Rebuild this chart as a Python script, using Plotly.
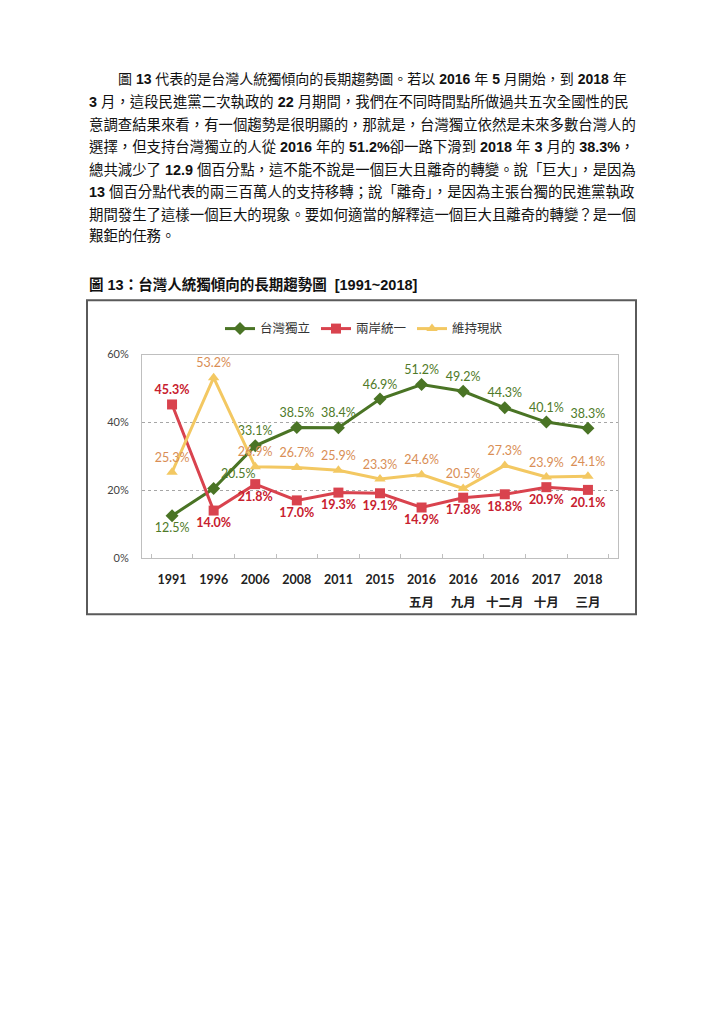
import re
import plotly.graph_objects as go

W, H = 724, 1024

categories = ["1991", "1996", "2006", "2008", "2011", "2015",
              "2016<br>五月", "2016<br>九月", "2016<br>十二月", "2017<br>十月", "2018<br>三月"]
independence = [12.5, 20.5, 33.1, 38.5, 38.4, 46.9, 51.2, 49.2, 44.3, 40.1, 38.3]
unification = [45.3, 14.0, 21.8, 17.0, 19.3, 19.1, 14.9, 17.8, 18.8, 20.9, 20.1]
status_quo = [25.3, 53.2, 26.9, 26.7, 25.9, 23.3, 24.6, 20.5, 27.3, 23.9, 24.1]
y_ticks = [0, 20, 40, 60]

paragraph = [
    "圖 13 代表的是台灣人統獨傾向的長期趨勢圖。若以 2016 年 5 月開始，到 2018 年",
    "3 月，這段民進黨二次執政的 22 月期間，我們在不同時間點所做過共五次全國性的民",
    "意調查結果來看，有一個趨勢是很明顯的，那就是，台灣獨立依然是未來多數台灣人的",
    "選擇，但支持台灣獨立的人從 2016 年的 51.2%卻一路下滑到 2018 年 3 月的 38.3%，",
    "總共減少了 12.9 個百分點，這不能不說是一個巨大且離奇的轉變。說「巨大」，是因為",
    "13 個百分點代表的兩三百萬人的支持移轉；說「離奇」，是因為主張台獨的民進黨執政",
    "期間發生了這樣一個巨大的現象。要如何適當的解釋這一個巨大且離奇的轉變？是一個",
    "艱鉅的任務。",
]
chart_title = "<b>圖 13：台灣人統獨傾向的長期趨勢圖  [1991~2018]</b>"

OFF = 8  # default page body margin


def px(x):
    return (x - OFF) / W


def py(y):
    return 1 - (y - OFF) / H


CJK = "Noto Sans CJK TC"
NUM = "Lato, Noto Sans CJK TC"

green, red, yellow = "#4A7425", "#D9434E", "#F3C862"
green_lbl, red_lbl, yellow_lbl = "#4F7A28", "#C8202E", "#D98E55"

fig = go.Figure()

pos_g = ["bottom center", "top right"] + ["top center"] * 9
pos_r = ["top center"] + ["bottom center"] * 10
pos_y = ["top center"] * 11

fig.add_trace(go.Scatter(
    x=categories, y=independence, name="台灣獨立", mode="lines+markers+text",
    line=dict(color=green, width=3), marker=dict(symbol="diamond", size=10, color=green),
    text=[f"{v:.1f}%" for v in independence], textposition=pos_g,
    textfont=dict(color=green_lbl, size=12.5, family=NUM), cliponaxis=False))
fig.add_trace(go.Scatter(
    x=categories, y=unification, name="兩岸統一", mode="lines+markers+text",
    line=dict(color=red, width=3), marker=dict(symbol="square", size=10, color=red),
    text=[f"<b>{v:.1f}%</b>" for v in unification], textposition=pos_r,
    textfont=dict(color=red_lbl, size=12.5, family=NUM), cliponaxis=False))
fig.add_trace(go.Scatter(
    x=categories, y=status_quo, name="維持現狀", mode="lines+markers+text",
    line=dict(color=yellow, width=3), marker=dict(symbol="triangle-up", size=10, color=yellow),
    text=[f"{v:.1f}%" for v in status_quo], textposition=pos_y,
    textfont=dict(color=yellow_lbl, size=12.5, family=NUM), cliponaxis=False))


def bold_digits(s):
    return re.sub(r"([0-9][0-9.%]*)", r"<b>\1</b>", s)


annotations = []
line_y = [73, 96, 119, 141.5, 164, 187, 210, 232]
for i, (t, yy) in enumerate(zip(paragraph, line_y)):
    annotations.append(dict(
        text=bold_digits(t), x=px(116 if i == 0 else 87), y=py(yy), xref="paper", yref="paper",
        xanchor="left", yanchor="middle", showarrow=False,
        font=dict(family="Liberation Sans, " + CJK, size=14.4 if i else 14.0, color="#111")))
annotations.append(dict(
    text=chart_title, x=px(87), y=py(281), xref="paper", yref="paper",
    xanchor="left", yanchor="middle", showarrow=False,
    font=dict(family="Liberation Sans, " + CJK, size=14.5, color="#111")))

tick_text = [f"<span style='font-size:12.5px'><b>{c.replace('<br>', '</b></span><br><span style=\"font-size:12.5px\"><b>')}</b></span>"
             for c in categories]

fig.update_layout(
    width=W, height=H, margin=dict(l=0, r=0, t=0, b=0),
    paper_bgcolor="white", plot_bgcolor="white",
    showlegend=True,
    legend=dict(orientation="h", x=px(220), y=py(326), xanchor="left", yanchor="middle",
                font=dict(family=CJK, size=12.5, color="#333"), itemwidth=30,
                entrywidth=51, entrywidthmode="pixels",
                traceorder="normal", bgcolor="rgba(0,0,0,0)"),
    annotations=annotations,
    shapes=[dict(type="rect", xref="paper", yref="paper",
                 x0=px(87), x1=px(636), y0=py(615), y1=py(297),
                 line=dict(color="#5a5a5a", width=2))],
    xaxis=dict(domain=[px(142), px(618)], type="category",
               showline=True, linecolor="#BFBFBF", linewidth=1, mirror=True,
               ticks="inside", tickson="boundaries", ticklen=4, tickcolor="#BFBFBF",
               showgrid=False, tickangle=0,
               tickmode="array", tickvals=categories, ticktext=tick_text,
               tickfont=dict(family="Lato, " + CJK, size=17, color="#222"),
               ticklabelstandoff=5),
    yaxis=dict(domain=[py(558), py(352)], range=[0, 60], tickvals=y_ticks,
               ticktext=[f"{v}%" for v in y_ticks],
               showline=True, linecolor="#BFBFBF", linewidth=1, mirror=True,
               showgrid=True, gridcolor="#A6A6A6", griddash="dot", gridwidth=1,
               zeroline=False, ticks="", ticklabelstandoff=10,
               tickfont=dict(family="Lato, " + CJK, size=11, color="#444")),
)

fig.write_html("out.html")
